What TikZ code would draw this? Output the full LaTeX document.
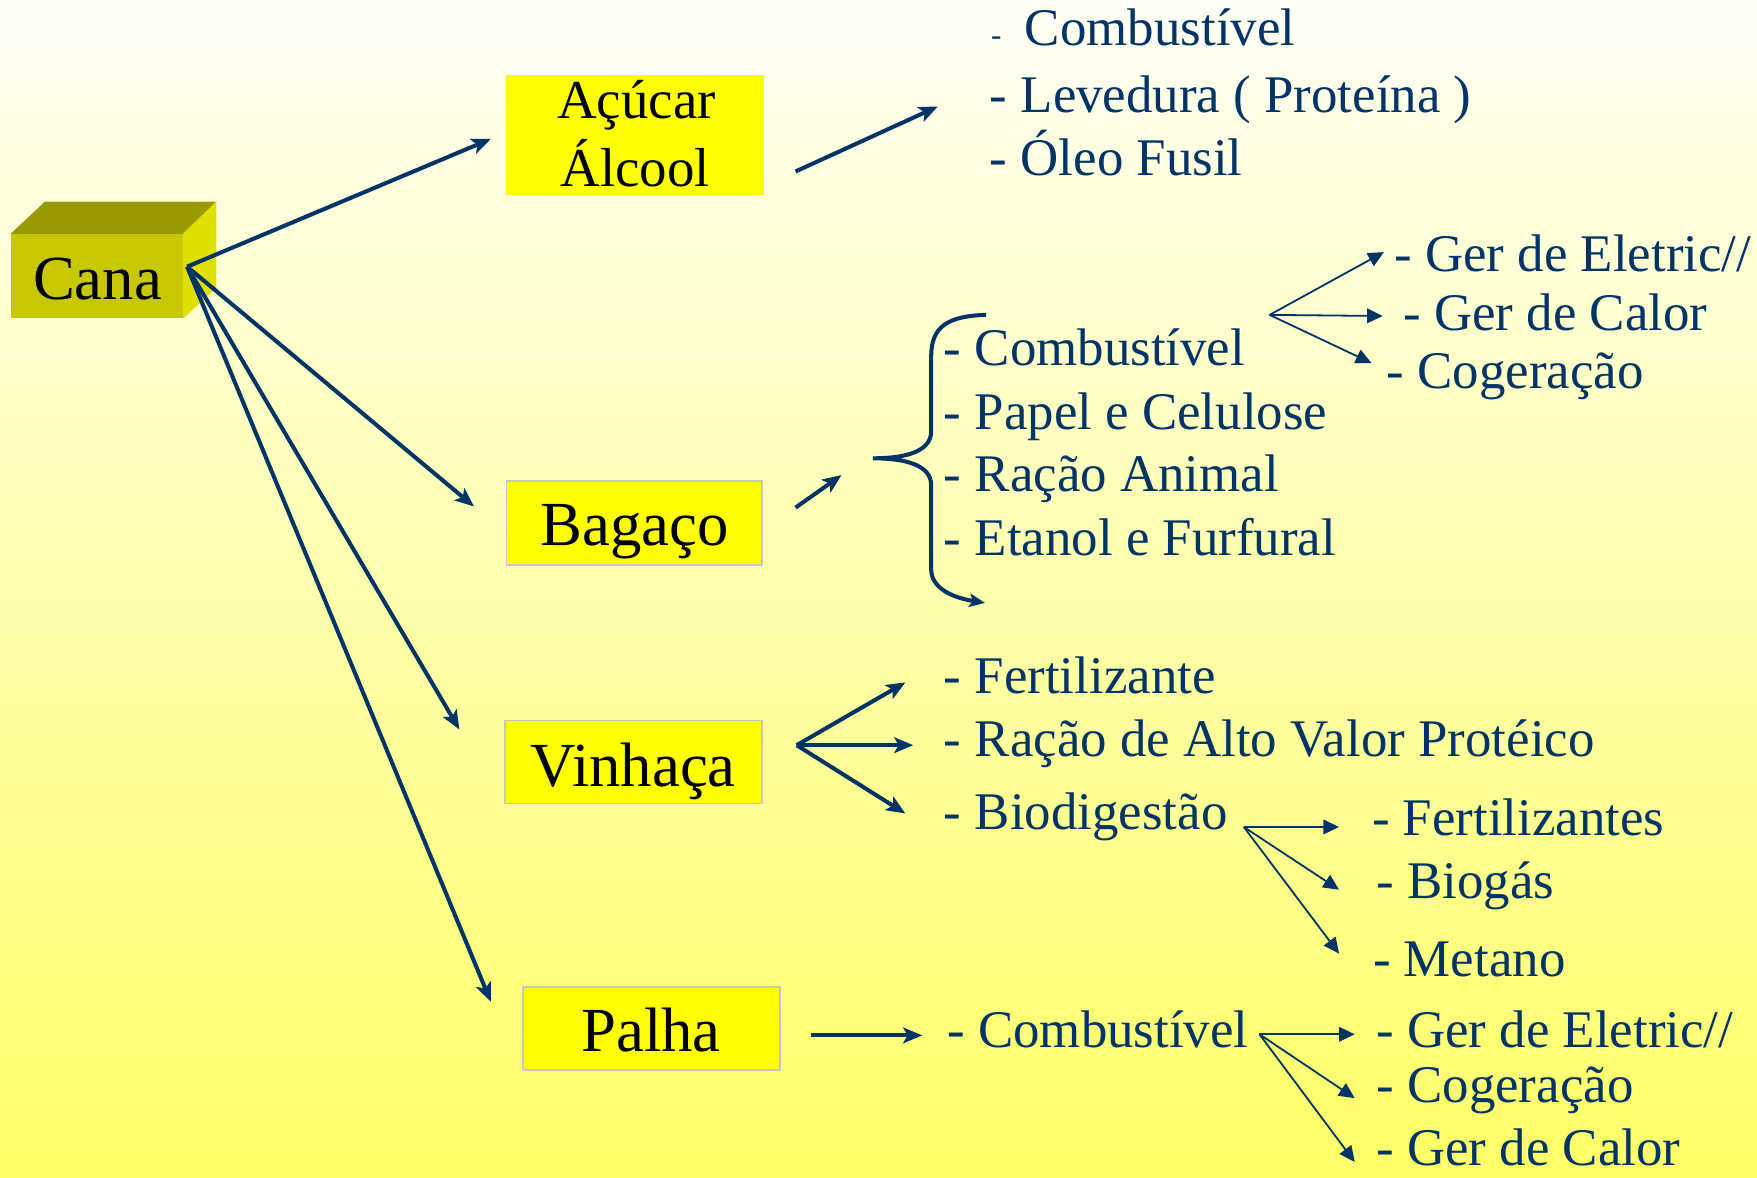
\documentclass[tikz,border=0pt]{standalone}
\usepackage{fontspec}
\setmainfont{Liberation Serif}
\usetikzlibrary{arrows.meta}
\definecolor{navy}{RGB}{0,51,102}
\definecolor{bgtop}{RGB}{255,255,246}
\definecolor{bgbot}{RGB}{255,255,102}
\definecolor{canafront}{RGB}{200,200,0}
\definecolor{canatop}{RGB}{153,153,0}
\definecolor{canaside}{RGB}{224,224,0}
\definecolor{boxyellow}{RGB}{255,255,0}
\tikzset{
  box/.style={fill=boxyellow, draw=black!22, line width=0.8pt, inner sep=0pt, rectangle},
  plainbox/.style={fill=boxyellow, inner sep=0pt, rectangle},
  lbl/.style={anchor=base, inner sep=0pt, text=black, font=\fontsize{28pt}{32pt}\selectfont},
  lblsmall/.style={anchor=base, inner sep=0pt, text=black, font=\fontsize{24.5pt}{28pt}\selectfont},
  item/.style={anchor=base west, inner sep=0pt, text=navy, font=\fontsize{23.6pt}{28pt}\selectfont},
  bigarrow/.style={draw=navy, line width=1.8pt, -{Stealth[length=8.5pt,width=7pt,inset=2pt]}},
  thinarrow/.style={draw=navy, line width=0.8pt, -{Triangle[length=7pt,width=6.5pt]}},
  bracestyle/.style={draw=navy, line width=1.8pt, -{Stealth[length=7pt,width=6pt,inset=1.5pt]}}
}
\begin{document}
\begin{tikzpicture}[x=0.5pt,y=-0.5pt]
\useasboundingbox (0,0) rectangle (1568,1051);
\shade[top color=bgtop, bottom color=bgbot] (0,0) rectangle (1568,1051);

% Cana cube
\node[rectangle, fill=canafront, minimum width=76.5pt, minimum height=37.5pt, inner sep=0pt] (cana) at (86.5,246.5) {};
\fill[canatop] (cana.north west) -- (40,180) -- (193,180) -- (cana.north east) -- cycle;
\fill[canaside] (cana.north east) -- (193,180) -- (193,257) -- (cana.south east) -- cycle;
\node[lbl] (canatext) at (87,267) {Cana};

% Boxes
\node[plainbox, minimum width=115pt, minimum height=53.5pt] (acucar) at (567,120.5) {};
\node[lblsmall] (acucartext) at (568,106) {Açúcar};
\node[lblsmall] (alcooltext) at (567,166) {Álcool};
\node[box, minimum width=114pt, minimum height=37.5pt] (bagaco) at (566,466.5) {};
\node[lbl] (bagacotext) at (566.5,487) {Bagaço};
\node[box, minimum width=114.5pt, minimum height=37pt] (vinhaca) at (565.5,680) {};
\node[lbl] (vinhacatext) at (565,701.5) {Vinhaça};
\node[box, minimum width=114.5pt, minimum height=37pt] (palha) at (581.5,918) {};
\node[lbl] (palhatext) at (581,938) {Palha};

% Cana arrows
\coordinate (s0) at (167,238);
\coordinate (t1) at (438,124);
\coordinate (t2) at (423,452);
\coordinate (t3) at (410,651);
\coordinate (t4) at (438,894);
\draw[bigarrow] (s0) -- (t1);
\draw[bigarrow] (s0) -- (t2);
\draw[bigarrow] (s0) -- (t3);
\draw[bigarrow] (s0) -- (t4);

% Acucar list
\coordinate (a0) at (710,153);
\coordinate (a1) at (837,95);
\draw[bigarrow] (a0) -- (a1);
\node[item] (la1) at (884,41) {{\fontsize{14pt}{14pt}\selectfont -}\hspace{10.5pt}Combustível};
\node[item] (la2) at (883,100) {- Levedura ( Proteína )};
\node[item] (la3) at (883,157) {- Óleo Fusil};

% Bagaco
\coordinate (b0) at (710,453);
\coordinate (b1) at (751,424);
\draw[bigarrow] (b0) -- (b1);
\coordinate (br0) at (880,281);
\coordinate (br1) at (879,538);
\draw[bracestyle] (br0) .. controls (845,282) and (831,292) .. (831,318)
  -- (831,385) .. controls (831,403) and (808,409) .. (779,409)
  .. controls (808,409) and (831,415) .. (831,433)
  -- (831,508) .. controls (831,524) and (848,533) .. (br1);
\node[item] (lb1) at (842,326) {- Combustível};
\node[item] (lb2) at (842,383) {- Papel e Celulose};
\node[item] (lb3) at (842,439) {- Ração Animal};
\node[item] (lb4) at (842,496) {- Etanol e Furfural};

\coordinate (c0) at (1133,281);
\coordinate (c1) at (1235,225);
\coordinate (c2) at (1234,282);
\coordinate (c3) at (1224,324);
\draw[thinarrow] (c0) -- (c1);
\draw[thinarrow] (c0) -- (c2);
\draw[thinarrow] (c0) -- (c3);
\node[item] (lc1) at (1244,242) {- Ger de Eletric//};
\node[item] (lc2) at (1252,295) {- Ger de Calor};
\node[item] (lc3) at (1237,347) {- Cogeração};

% Vinhaca
\coordinate (v0) at (711,665);
\coordinate (v1) at (808,609);
\coordinate (v2) at (815,665);
\coordinate (v3) at (808,726);
\draw[bigarrow] (v0) -- (v1);
\draw[bigarrow] (v0) -- (v2);
\draw[bigarrow] (v0) -- (v3);
\node[item] (lv1) at (842,619) {- Fertilizante};
\node[item] (lv2) at (842,675) {- Ração de Alto Valor Protéico};
\node[item] (lv3) at (842,740) {- Biodigestão};

\coordinate (d0) at (1110,738);
\coordinate (d1) at (1195,738);
\coordinate (d2) at (1195,794);
\coordinate (d3) at (1195,851);
\draw[thinarrow] (d0) -- (d1);
\draw[thinarrow] (d0) -- (d2);
\draw[thinarrow] (d0) -- (d3);
\node[item] (ld1) at (1224,746) {- Fertilizantes};
\node[item] (ld2) at (1228,802) {- Biogás};
\node[item] (ld3) at (1225,871) {- Metano};

% Palha
\coordinate (p0) at (724,924);
\coordinate (p1) at (823,924);
\draw[bigarrow] (p0) -- (p1);
\node[item] (lp1) at (845,935) {- Combustível};

\coordinate (e0) at (1124,923);
\coordinate (e1) at (1209,923);
\coordinate (e2) at (1209,980);
\coordinate (e3) at (1209,1037);
\draw[thinarrow] (e0) -- (e1);
\draw[thinarrow] (e0) -- (e2);
\draw[thinarrow] (e0) -- (e3);
\node[item] (le1) at (1228,935) {- Ger de Eletric//};
\node[item] (le2) at (1228,984) {- Cogeração};
\node[item] (le3) at (1228,1040) {- Ger de Calor};
\end{tikzpicture}
\end{document}
